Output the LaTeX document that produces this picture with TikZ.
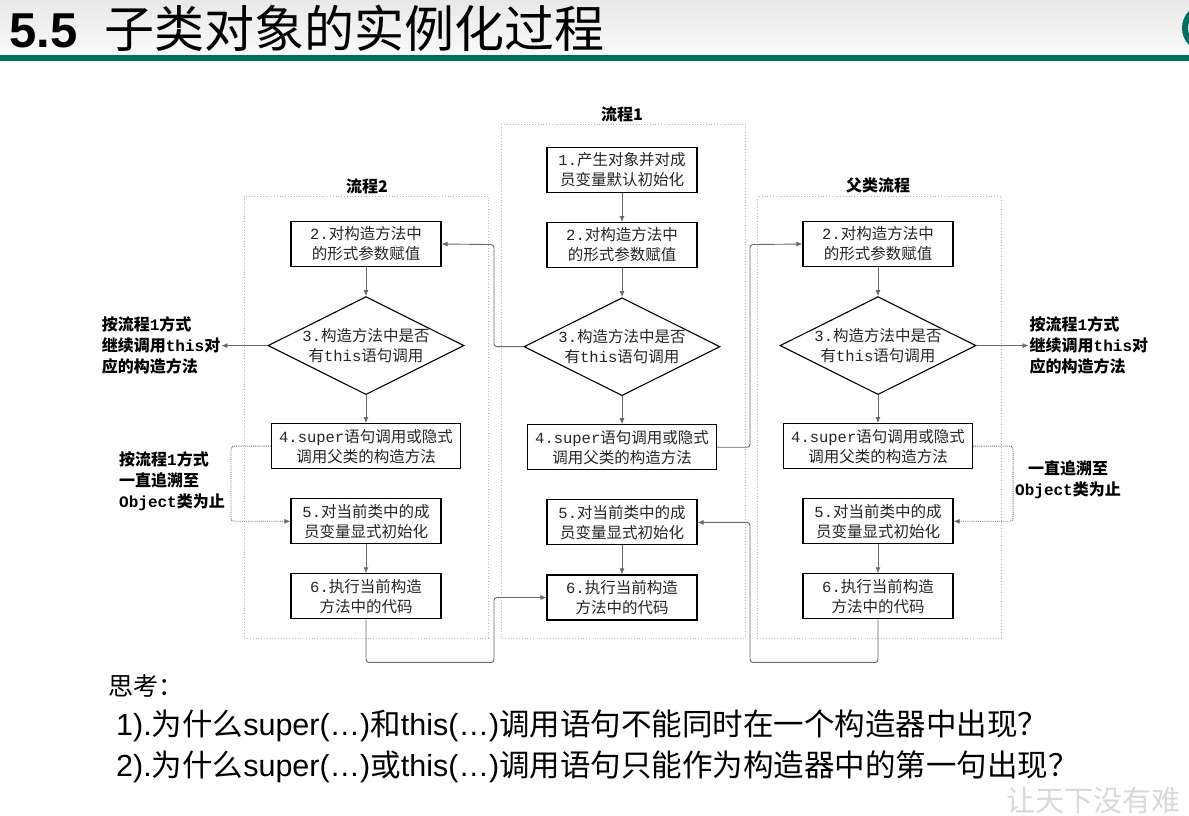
\documentclass[tikz,border=0pt]{standalone}
\usepackage{fontspec}
\setmainfont{Noto Sans CJK SC}
\setmonofont{Liberation Mono}
\newfontfamily\latfont{Liberation Sans}
\usepackage{xcolor}
\usetikzlibrary{arrows.meta, positioning, shapes.geometric, calc}
\definecolor{slidegreen}{RGB}{0,112,92}
\definecolor{linegray}{RGB}{105,105,105}
\newcommand{\code}[1]{\texttt{#1}}
\newcommand{\en}[1]{{\latfont #1}}

\begin{document}
\begin{tikzpicture}[x=1pt, y=-1pt, font=\fontsize{15.5}{20}\selectfont, node distance=29pt,
   box/.style={draw, line width=1.1pt, minimum width=150pt, minimum height=45pt, align=center, inner sep=2pt, text=black!85},
   wbox/.style={box, minimum width=189pt},
   cond/.style={draw, diamond, aspect=2, inner sep=0pt, line width=1.1pt, align=center, text=black!85},
   flow/.style={-{Latex[length=6pt,width=5pt]}, linegray, line width=0.9pt, rounded corners=3pt},
   dflow/.style={flow, densely dotted},
   panel/.style={draw=gray!55, dotted, line width=0.8pt},
   head/.style={font=\fontsize{16}{20}\selectfont\bfseries},
   note/.style={font=\fontsize{16}{21}\selectfont\bfseries, align=left, inner sep=1pt}]
  \useasboundingbox (0,0) rectangle (1189,815);
  \clip (0,0) rectangle (1189,815);
  \fill[white] (0,0) rectangle (1189,815);
  % slide header
  \shade[top color=gray!18, bottom color=gray!4] (0,0) rectangle (1189,55);
  \fill[slidegreen] (0,55) rectangle (1189,61);
  \draw[slidegreen, line width=6pt] (1206,28) circle (21);
  \node[anchor=base west, inner sep=0pt] (title) at (9,47)
       {{\latfont\fontsize{49}{49}\selectfont\bfseries 5.5}\hspace{27pt}{\fontsize{50}{50}\selectfont 子类对象的实例化过程}};

  % the three dotted frames
  \draw[panel] (244,196) rectangle (488,638);
  \draw[panel] (501,124) rectangle (745,638);
  \draw[panel] (757,196) rectangle (1001,638);
  \node[head] (h1) at (622,114) {流程1};
  \node[head] (h2) at (367,186) {流程2};
  \node[head] (h3) at (878,185) {父类流程};

  % flow 1 (middle)
  \node[box] (a1) at (622,170) {\code{1.}产生对象并对成\\员变量默认初始化};
  \node[box, below=of a1] (a2) {\code{2.}对构造方法中\\的形式参数赋值};
  \node[cond, below=of a2] (a3) {\code{3.}构造方法中是否\\有\code{this}语句调用};
  \node[wbox, below=28pt of a3] (a4) {\code{4.super}语句调用或隐式\\调用父类的构造方法};
  \node[box, below=of a4] (a5) {\code{5.}对当前类中的成\\员变量显式初始化};
  \node[box, below=of a5] (a6) {\code{6.}执行当前构造\\方法中的代码};

  % flow 2 (left)
  \node[box] (b2) at (366,244) {\code{2.}对构造方法中\\的形式参数赋值};
  \node[cond, below=of b2] (b3) {\code{3.}构造方法中是否\\有\code{this}语句调用};
  \node[wbox, below=28pt of b3] (b4) {\code{4.super}语句调用或隐式\\调用父类的构造方法};
  \node[box, below=of b4] (b5) {\code{5.}对当前类中的成\\员变量显式初始化};
  \node[box, below=of b5] (b6) {\code{6.}执行当前构造\\方法中的代码};

  % parent class flow (right)
  \node[box] (c2) at (878,244) {\code{2.}对构造方法中\\的形式参数赋值};
  \node[cond, below=of c2] (c3) {\code{3.}构造方法中是否\\有\code{this}语句调用};
  \node[wbox, below=28pt of c3] (c4) {\code{4.super}语句调用或隐式\\调用父类的构造方法};
  \node[box, below=of c4] (c5) {\code{5.}对当前类中的成\\员变量显式初始化};
  \node[box, below=of c5] (c6) {\code{6.}执行当前构造\\方法中的代码};

  % side notes
  \node[note, left=46pt of b3] (thisL) {按流程\code{1}方式\\继续调用\code{this}对\\应的构造方法};
  \node[note, right=52pt of c3] (thisR) {按流程\code{1}方式\\继续调用\code{this}对\\应的构造方法};
  \node[note, anchor=west] (upL) at (118,481) {按流程\code{1}方式\\一直追溯至\\\code{Object}类为止};
  \node[note, align=center] (upR) at (1068,480) {一直追溯至\\\code{Object}类为止};

  % gaps between the frames
  \coordinate (gapL) at ($(b2.east)!.5!(a2.west)$);
  \coordinate (gapR) at ($(a2.east)!.5!(c2.west)$);

  % straight steps
  \foreach \col in {b,c} {
    \draw[flow] (\col2) -- (\col3);
    \draw[flow] (\col3) -- (\col4);
    \draw[flow] (\col5) -- (\col6);
  }
  \draw[flow] (a1) -- (a2);
  \draw[flow] (a2) -- (a3);
  \draw[flow] (a3) -- (a4);
  \draw[flow] (a5) -- (a6);

  % jumps between the flows
  \draw[flow] (a3.west) -| (gapL) -- (b2.east);
  \draw[flow] (a4.east) -| (gapR) -- (c2.west);
  \draw[flow] (b6.south) -- ++(0,43) -| (gapL |- a6.west) -- (a6.west);
  \draw[flow] (c6.south) -- ++(0,43) -| (gapR |- a5.east) -- (a5.east);
  \draw[flow] (b3.west) -- (thisL.east);
  \draw[flow] (c3.east) -- (thisR.west);
  \draw[dflow] (b4.west) -- ++(-40,0) |- (b5.west);
  \draw[dflow] (c4.east) -- ++(40,0) |- (c5.east);

  % questions
  \node[anchor=west, inner sep=0pt, font=\fontsize{25}{25}\selectfont] (think) at (108,686) {思考：};
  \node[anchor=west, inner sep=0pt, font=\fontsize{30.5}{30.5}\selectfont] (q1) at (116,726)
       {\en{1).}为什么\en{super(…)}和\en{this(…)}调用语句不能同时在一个构造器中出现？};
  \node[anchor=west, inner sep=0pt, font=\fontsize{30.5}{30.5}\selectfont] (q2) at (116,767)
       {\en{2).}为什么\en{super(…)}或\en{this(…)}调用语句只能作为构造器中的第一句出现？};
  \node[anchor=west, inner sep=0pt, text=gray!30, font=\fontsize{29}{29}\selectfont] (mark) at (1006,800) {让天下没有难};
\end{tikzpicture}
\end{document}
